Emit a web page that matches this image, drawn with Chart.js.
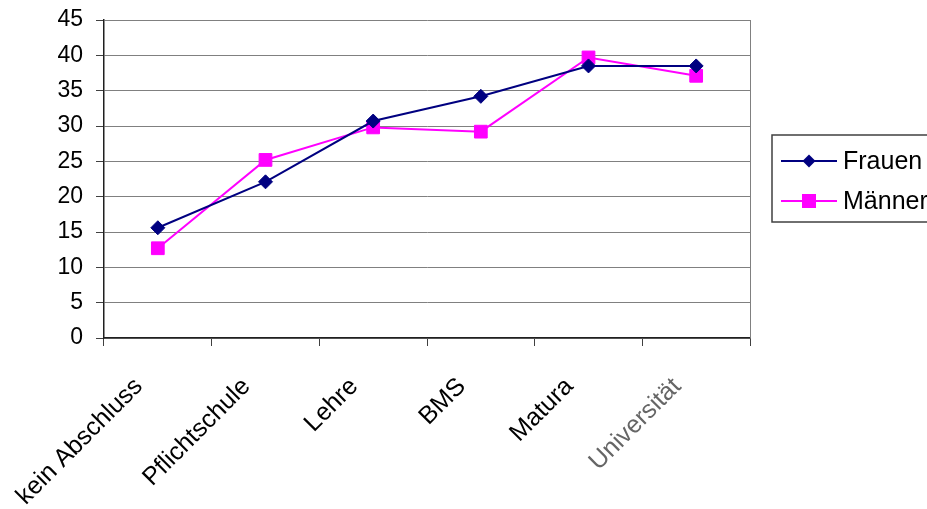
<!DOCTYPE html>
<html>
<head>
<meta charset="utf-8">
<script src="https://cdn.jsdelivr.net/npm/chart.js@4/dist/chart.umd.min.js"></script>
<style>
  html, body { margin: 0; padding: 0; background: #fff; }
  #wrap { width: 927px; height: 509px; position: relative; }
</style>
</head>
<body>
<div id="wrap"><canvas id="c" width="927" height="509"></canvas></div>
<script>
// Bildungsabschluss nach Geschlecht
const categories = ['kein Abschluss', 'Pflichtschule', 'Lehre', 'BMS', 'Matura', 'Universität'];
const frauen = [15.6, 22.1, 30.7, 34.2, 38.5, 38.5];
const maenner = [12.7, 25.2, 29.8, 29.2, 39.7, 37.1];
const yTicks = [0, 5, 10, 15, 20, 25, 30, 35, 40, 45];

const FONT = 'Liberation Sans, Arial, sans-serif';
const NAVY = '#000080';
const MAGENTA = '#FF00FF';

// Frame on the right side of the plot area plus a boxed legend
const framePlugin = {
  id: 'frame',
  afterDraw(chart) {
    const { ctx, chartArea: a } = chart;
    ctx.save();
    ctx.strokeStyle = '#808080';
    ctx.lineWidth = 1;
    ctx.beginPath();
    ctx.moveTo(a.right + 0.5, a.top);
    ctx.lineTo(a.right + 0.5, a.bottom);
    ctx.stroke();

    // legend box
    const bx = 772, by = 135, bw = 170, bh = 87;
    ctx.strokeStyle = '#404040';
    ctx.lineWidth = 1.5;
    ctx.strokeRect(bx, by, bw, bh);

    const entries = chart.data.datasets.map((ds, i) => ({ ds, y: by + 26 + i * 40 }));
    entries.forEach(({ ds, y }) => {
      ctx.strokeStyle = ds.borderColor;
      ctx.lineWidth = 2;
      ctx.beginPath();
      ctx.moveTo(781, y);
      ctx.lineTo(837, y);
      ctx.stroke();
      ctx.fillStyle = ds.pointBackgroundColor;
      const cx = 809;
      ctx.beginPath();
      if (ds.pointStyle === 'rectRot') {
        const r = 6.5;
        ctx.moveTo(cx - r, y); ctx.lineTo(cx, y - r); ctx.lineTo(cx + r, y); ctx.lineTo(cx, y + r);
        ctx.closePath();
      } else {
        ctx.rect(cx - 7, y - 7, 14, 14);
      }
      ctx.fill();
      ctx.fillStyle = '#000';
      ctx.font = '25px ' + FONT;
      ctx.textAlign = 'left';
      ctx.textBaseline = 'middle';
      ctx.fillText(ds.label, 843, y + 1);
    });
    ctx.restore();
  }
};

new Chart(document.getElementById('c'), {
  type: 'line',
  data: {
    labels: categories,
    datasets: [
      {
        label: 'Frauen',
        data: frauen,
        borderColor: NAVY,
        backgroundColor: NAVY,
        pointBackgroundColor: NAVY,
        pointBorderColor: NAVY,
        borderWidth: 2,
        pointStyle: 'rectRot',
        pointRadius: 7,
        pointBorderWidth: 1,
        tension: 0
      },
      {
        label: 'Männer',
        data: maenner,
        borderColor: MAGENTA,
        backgroundColor: MAGENTA,
        pointBackgroundColor: MAGENTA,
        pointBorderColor: MAGENTA,
        borderWidth: 2,
        pointStyle: 'rect',
        pointRadius: 9,
        pointBorderWidth: 1,
        tension: 0
      }
    ]
  },
  options: {
    responsive: false,
    animation: false,
    layout: { padding: { top: 20, right: 177, left: 0, bottom: 0 } },
    plugins: {
      legend: { display: false },
      tooltip: { enabled: false }
    },
    scales: {
      x: {
        offset: true,
        grid: {
          offset: true,
          drawOnChartArea: false,
          drawTicks: true,
          tickLength: 8,
          tickColor: '#404040',
          tickWidth: 1
        },
        border: { color: '#202020', width: 1.5 },
        ticks: {
          autoSkip: false,
          maxRotation: 45,
          minRotation: 45,
          padding: 26,
          labelOffset: -19,
          font: { family: FONT, size: 25 },
          color: (c) => (c.index === categories.length - 1 ? '#666' : '#000')
        },
        afterFit(scale) { scale.height = 509 - 338; }
      },
      y: {
        min: 0,
        max: 45,
        afterBuildTicks(scale) { scale.ticks = yTicks.map(v => ({ value: v })); },
        grid: {
          color: '#808080',
          lineWidth: 1,
          drawTicks: true,
          tickLength: 8,
          tickColor: '#404040'
        },
        border: { color: '#202020', width: 1.5 },
        ticks: {
          padding: 13,
          font: { family: FONT, size: 23 },
          color: '#000'
        },
        afterFit(scale) {
          scale.width = 104;
          scale.paddingTop = 0;
          scale.paddingBottom = 0;
        }
      }
    }
  },
  plugins: [framePlugin]
});
</script>
</body>
</html>
